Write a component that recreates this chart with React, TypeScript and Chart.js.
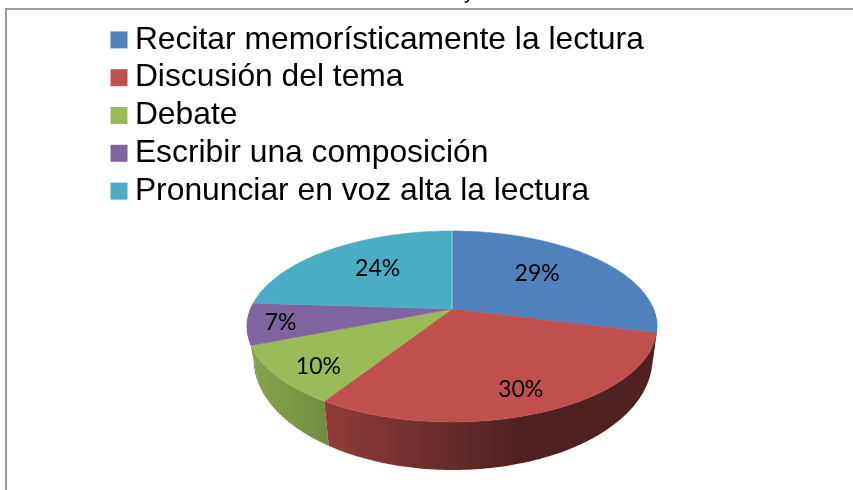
import React, { useEffect, useRef } from "react";
import { Chart, registerables } from "chart.js";

Chart.register(...registerables);

const categories = [
  "Recitar memorísticamente la lectura",
  "Discusión del tema",
  "Debate",
  "Escribir una composición",
  "Pronunciar en voz alta la lectura",
];
const percentages = [29, 30, 10, 7, 24];
const sliceColors = ["#4F81BD", "#C0504D", "#9BBB59", "#8064A2", "#4BACC6"];
const labelRadius = [0.62, 0.8, 0.81, 0.84, 0.63];
const labelAngleShift = [-5, 0, -3, 0, 3.6];

// Perspective of the tilted disc: top face and bottom face of the pie
const top3d = { cx: 452, cy: 309, rx: 201.6, ry: 92.3, k: 0.183 };
const bottom3d = { cx: 453, cy: 339, rx: 196, ry: 107, k: 0.183 };

type Face = typeof top3d;
const project = (f: Face, angle: number, r = 1) => {
  // angle: Chart.js arc angle (radians, -PI/2 at 12 o'clock)
  const u = r * Math.cos(angle);
  const v = r * Math.sin(angle);
  const d = 1 - f.k * v;
  return { x: f.cx + (f.rx * u) / d, y: f.cy + (f.ry * v) / d };
};

const darken = (hex: string, f: number) => {
  const n = parseInt(hex.slice(1), 16);
  const c = [(n >> 16) & 255, (n >> 8) & 255, n & 255].map((p) => Math.round(p * f));
  return `rgb(${c[0]},${c[1]},${c[2]})`;
};

const pie3d = {
  id: "pie3d",
  beforeDatasetDraw(chart: any) {
    const ctx: CanvasRenderingContext2D = chart.ctx;
    const arcs = chart.getDatasetMeta(0).data;
    const step = Math.PI / 180;

    // side wall: one shaded band per slice, far slices first
    const walls = arcs
      .map((arc: any) => {
        const angles: number[] = [];
        for (let a = arc.startAngle; a < arc.endAngle; a += step) {
          if (Math.sin(a) > -0.05) angles.push(a);
        }
        if (Math.sin(arc.endAngle) > -0.05) angles.push(arc.endAngle);
        return { angles, color: arc.options.backgroundColor };
      })
      .filter((w: any) => w.angles.length > 1)
      .sort(
        (p: any, q: any) =>
          Math.max(...p.angles.map(Math.sin)) - Math.max(...q.angles.map(Math.sin)),
      );
    walls.forEach((w: any) => {
      ctx.beginPath();
      w.angles.forEach((a: number, i: number) => {
        const p = project(top3d, a);
        if (i === 0) ctx.moveTo(p.x, p.y);
        else ctx.lineTo(p.x, p.y);
      });
      [...w.angles].reverse().forEach((a: number) => {
        const p = project(bottom3d, a);
        ctx.lineTo(p.x, p.y);
      });
      ctx.closePath();
      const g = ctx.createLinearGradient(255, 0, 520, 0);
      g.addColorStop(0, darken(w.color, 0.87));
      g.addColorStop(1, darken(w.color, 0.41));
      ctx.fillStyle = g;
      ctx.fill();
    });

    // top face
    arcs.forEach((arc: any) => {
      ctx.beginPath();
      ctx.moveTo(top3d.cx, top3d.cy);
      for (let a = arc.startAngle; a < arc.endAngle; a += step) {
        const p = project(top3d, a);
        ctx.lineTo(p.x, p.y);
      }
      const e = project(top3d, arc.endAngle);
      ctx.lineTo(e.x, e.y);
      ctx.closePath();
      ctx.fillStyle = arc.options.backgroundColor;
      ctx.strokeStyle = arc.options.backgroundColor;
      ctx.lineWidth = 0.5;
      ctx.fill();
      ctx.stroke();
    });

    // faint seam where the first slice starts
    const seam = project(top3d, arcs[0].startAngle);
    ctx.beginPath();
    ctx.moveTo(top3d.cx, top3d.cy);
    ctx.lineTo(seam.x, seam.y);
    ctx.strokeStyle = "rgba(205,225,240,0.7)";
    ctx.lineWidth = 1;
    ctx.stroke();

    // value labels
    ctx.fillStyle = "#000";
    ctx.font = "23px Lato";
    ctx.textAlign = "center";
    ctx.textBaseline = "middle";
    arcs.forEach((arc: any, i: number) => {
      const mid = (arc.startAngle + arc.endAngle) / 2 + (labelAngleShift[i] * Math.PI) / 180;
      const p = project(top3d, mid, labelRadius[i]);
      ctx.fillText(`${percentages[i]}%`, p.x, p.y + 1);
    });
    return false;
  },
  beforeDraw(chart: any) {
    // the legend swatches hang left of the legend box, so it must not clip them
    const legend = chart.legend;
    if (legend && legend._draw) {
      legend.draw = function () {
        this._draw();
      };
    }
    const ctx: CanvasRenderingContext2D = chart.ctx;
    ctx.save();
    ctx.fillStyle = "#fff";
    ctx.fillRect(0, 0, chart.width, chart.height);
    // chart frame, cut by the right and bottom edge of the picture
    ctx.fillStyle = "#9a9a9a";
    ctx.fillRect(5, 8, chart.width - 5, 2);
    ctx.fillRect(5, 8, 2, chart.height - 8);
    // tail of the title, which the picture cuts off
    ctx.fillStyle = "#000";
    ctx.font = "20px 'Liberation Sans'";
    ctx.textAlign = "center";
    ctx.textBaseline = "alphabetic";
    ctx.fillText("y", 469, -1);
    ctx.restore();
  },
};

export default function App() {
  const ref = useRef<HTMLCanvasElement>(null);
  useEffect(() => {
    const chart = new Chart(ref.current!, {
      type: "pie",
      data: {
        labels: categories,
        datasets: [{ data: percentages, backgroundColor: sliceColors, borderWidth: 0 }],
      },
      options: {
        animation: false,
        responsive: false,
        layout: { padding: { left: 113, top: 18 } },
        plugins: {
          tooltip: { enabled: false },
          title: { display: false },
          legend: {
            display: true,
            position: "left",
            align: "start",
            maxWidth: 700,
            labels: {
              boxWidth: 0.01,
              boxHeight: 17,
              usePointStyle: true,
              pointStyle: "rect",
              padding: 6,
              color: "#000",
              font: { family: "'Liberation Sans'", size: 31.8, lineHeight: 1 },
            },
          },
        },
      },
      plugins: [pie3d],
    } as any);
    return () => chart.destroy();
  }, []);
  return (
    <canvas
      ref={ref}
      width={853}
      height={490}
      style={{ position: "fixed", left: 0, top: 0, width: 853, height: 490, display: "block" }}
    />
  );
}
